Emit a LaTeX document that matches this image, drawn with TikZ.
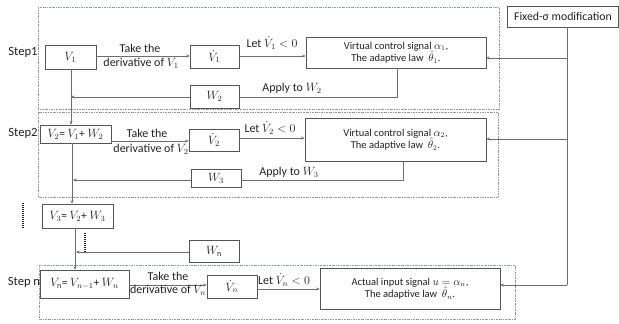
\documentclass[tikz,border=0pt]{standalone}
\usepackage{fontspec}
\setmainfont{Carlito}
\usetikzlibrary{arrows.meta}
\definecolor{linec}{HTML}{6E6E6E}
\definecolor{boxc}{HTML}{555555}
\definecolor{framec}{HTML}{8C98A8}
\definecolor{textc}{HTML}{222222}
\begin{document}
\begin{tikzpicture}[x=1pt,y=-1pt,
  every node/.style={font=\fontsize{10.5}{12.5}\selectfont, text=textc, inner sep=0pt},
  blk/.style={draw=boxc, line width=0.6pt, fill=white, align=center},
  stepframe/.style={draw=framec, line width=0.5pt, dash pattern=on 2pt off 1pt on 0.6pt off 1pt},
  conn/.style={draw=linec, line width=0.7pt},
  arr/.style={conn, -{Stealth[length=3.5pt,width=3pt]}},
  dotline/.style={draw=textc, line width=1.1pt, dash pattern=on 0.8pt off 1.2pt},
  lbl/.style={align=center, font=\fontsize{12}{14}\selectfont},
  biglbl/.style={font=\fontsize{12.6}{15}\selectfont},
  mathbox/.style={blk, font=\fontsize{11.5}{13}\selectfont}]
\useasboundingbox (0,0) rectangle (619,324);
\fill[white] (0,0) rectangle (619,324);

% step frames
\draw[stepframe] (38,7) rectangle (499,109);
\draw[stepframe] (38,112) rectangle (498,197);
\draw[stepframe] (39,265) rectangle (515,319);

% step 1
\node[mathbox, minimum width=51, minimum height=24] (v1) at (70.5,57) {$V_1$};
\node[mathbox, minimum width=49, minimum height=23] (v1d) at (214.5,56.5) {$\dot V_1$};
\node[blk, minimum width=180, minimum height=31] (c1) at (396,52.5)
  {Virtual control signal $\alpha_1$,\\The adaptive law~ $\hat{\theta}_1$.};
\node[mathbox, minimum width=49, minimum height=23] (w2) at (214.5,96.5) {$W_2$};
\node[blk, font=\fontsize{11.8}{14}\selectfont, minimum width=111, minimum height=21] (fx) at (563,16.5) {Fixed-σ modification};

% step 2
\node[mathbox, minimum width=71, minimum height=18] (v2) at (75.5,134) {$V_2$= $V_1$+ $W_2$};
\node[mathbox, minimum width=50, minimum height=22] (v2d) at (214,140) {$\dot V_2$};
\node[blk, minimum width=181, minimum height=43] (c2) at (395.5,139.5)
  {Virtual control signal $\alpha_2$,\\The adaptive law~ $\hat{\theta}_2$.};
\node[mathbox, minimum width=50, minimum height=18] (w3) at (216,178) {$W_3$};

% step 3 and step n
\node[mathbox, minimum width=71, minimum height=24] (v3) at (77.5,216) {$V_3$= $V_2$+ $W_3$};
\node[mathbox, minimum width=50, minimum height=22] (wn) at (214,251) {$W_\mathrm{n}$};
\node[mathbox, minimum width=89, minimum height=28] (vn) at (84.5,284) {$V_\mathrm{n}$= $V_{n-1}$+ $W_n$};
\node[mathbox, minimum width=50, minimum height=23] (vnd) at (232,286.5) {$\dot V_n$};
\node[blk, minimum width=180, minimum height=41] (cn) at (410,288.5)
  {Actual input signal $u=\alpha_n$,\\The adaptive law~ $\hat{\theta}_n$.};

% step labels
\node[biglbl] (s1) at (23,52) {Step1};
\node[biglbl] (s2) at (23,133) {Step2};
\node[biglbl] (sn) at (24,282) {Step n};

% forward arrows
\draw[arr] (v1.east |- 0,56) -- (v1d.west |- 0,56);
\node[lbl] (t1a) at (140,48) {Take the};
\node[lbl] (t1b) at (141,63.5) {derivative of $V_1$};
\draw[arr] (v1d.east |- 0,56) -- (c1.west |- 0,56);
\node[lbl] (l1) at (272,43) {Let $\dot V_1<0$};

\draw[arr] (v2.east |- 0,141) -- (v2d.west |- 0,141);
\node[lbl] (t2a) at (147,133) {Take the};
\node[lbl] (t2b) at (151,149) {derivative of $V_2$};
\draw[arr] (v2d.east |- 0,138) -- (c2.west |- 0,138);
\node[lbl] (l2) at (270,128) {Let $\dot V_2<0$};

\draw[arr] (vn.east |- 0,285) -- (vnd.west |- 0,285);
\node[lbl] (tna) at (168,276) {Take the};
\node[lbl] (tnb) at (168,290.5) {derivative of $V_n$};
\draw[arr] (vnd.east |- 0,289) -- (cn.west |- 0,289);
\node[lbl] (ln) at (284,280) {Let $\dot V_n<0$};

% feedback through W blocks
\coordinate (j1) at (71,97);
\coordinate (j2) at (73,180);
\coordinate (jn) at (76,252);
\draw[conn] (c1.south -| 397,0) |- (w2.east |- 0,97);
\draw[arr] (w2.west |- 0,97) -- (j1);
\node[lbl] (a1) at (292,88) {Apply to $W_2$};
\draw[conn] (c2.south -| 403,0) |- (w3.east |- 0,180);
\draw[arr] (w3.west |- 0,180) -- (j2);
\node[lbl] (a2) at (289,172) {Apply to $W_3$};
\draw[arr] (wn.west |- 0,252) -- (jn);

% main vertical chain
\draw[arr] (v1.south -| 71,0) -- (v2.north -| 71,0);
\draw[arr] (v2.south -| 72,0) -- (v3.north -| 72,0);
\draw[arr] (v3.south -| 75,0) -- (vn.north -| 75,0);

% continuation dots
\coordinate (d1a) at (23,203);
\coordinate (d1b) at (23,228);
\coordinate (d2a) at (85,233);
\coordinate (d2b) at (85,252);
\draw[dotline] (d1a) -- (d1b);
\draw[dotline] (d2a) -- (d2b);

% fixed-sigma modification feeding every step
\coordinate (fb) at (567,285);
\draw[conn] (fx.south -| 567,0) -- (fb);
\draw[arr] (fb) -- (cn.east |- fb);
\draw[arr] (567,58) -- (c1.east |- 0,58);
\draw[arr] (567,139) -- (c2.east |- 0,139);
\end{tikzpicture}
\end{document}
